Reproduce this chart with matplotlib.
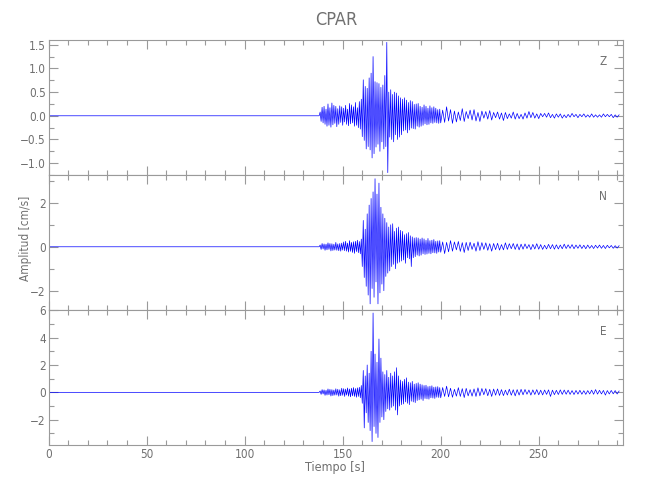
import numpy as np
import matplotlib.pyplot as plt
from matplotlib.ticker import MultipleLocator

plt.rcParams['font.family'] = ['Liberation Sans Narrow', 'DejaVu Sans']
plt.rcParams['font.stretch'] = 'condensed'

# station / components
station = "CPAR"
components = ["Z", "N", "E"]

# quiet record before the arrival (s)
t_pre = [0.0, 138.0]
pre_vals = [0.0, 0.0]

# main phase: peaks read every 0.5 s from 138.5 s, coda: every 1 s from 200 s
t_main0, dt_main = 138.5, 0.5
t_coda0, dt_coda = 200.0, 1.0

z_main = [0.08, -0.12, 0.18, -0.15, 0.2, -0.18, 0.14, -0.22, 0.25, -0.2, 0.17, -0.24,
          0.27, -0.19, 0.22, -0.16, 0.2, -0.23, 0.15, -0.18, 0.21, -0.14, 0.19,
          -0.2, 0.16, -0.13, 0.22, -0.18, 0.14, -0.21, 0.26, -0.17, 0.23, -0.15, 0.19,
          -0.22, 0.28, -0.2, 0.17, -0.25, 0.3, -0.28, 0.35,
          -0.44, 0.76, -0.52, 0.62, -0.7, 0.58, -0.65, 0.8, -0.72, 0.9,
          -0.89, 1.25, -0.8, 0.72, -0.66, 0.7, -0.6, 0.68, -0.75, 0.6,
          -0.55, 0.65, -0.7, 0.85, -0.65, 1.55, -1.2, 0.5, -0.45, 0.55,
          -0.5, 0.45, -0.55, 0.5, -0.4, 0.48, -0.5, 0.42, -0.45, 0.38,
          -0.4, 0.35, -0.32, 0.38, -0.3, 0.33, -0.36, 0.28, -0.3, 0.32,
          -0.26, 0.3, -0.27, 0.24, -0.28, 0.25, -0.22, 0.26, -0.24, 0.2,
          -0.22, 0.18, -0.2, 0.23, -0.17, 0.2, -0.19, 0.16, -0.18, 0.21,
          -0.15, 0.17, -0.16, 0.19, -0.14, 0.16, -0.15, 0.13, -0.16, 0.14]
z_coda = [-0.15, 0.12, -0.14, 0.19, -0.11, 0.13, -0.16, 0.1, -0.13, 0.08,
          -0.1, 0.15, -0.12, 0.09, -0.06, 0.12, -0.09, 0.13, -0.11, 0.07,
          -0.12, 0.1, -0.05, 0.09, -0.07, 0.11, -0.09, 0.07, -0.04, 0.08,
          -0.07, 0.06, -0.1, 0.07, -0.06, 0.04, -0.05, 0.08, -0.07, 0.05,
          -0.06, 0.03, -0.07, 0.06, -0.05, 0.09, -0.04, 0.07, -0.05, 0.04,
          -0.06, 0.05, -0.02, 0.05, -0.03, 0.06, -0.04, 0.03, -0.05, 0.04,
          -0.03, 0.04, -0.05, 0.02, -0.04, 0.03, -0.03, 0.05, -0.02, 0.03,
          -0.04, 0.03, -0.02, 0.04, -0.03, 0.02, -0.03, 0.04, -0.03, 0.02,
          -0.03, 0.02, -0.03, 0.04, -0.02, 0.03, -0.02, 0.03, -0.04, 0.02, -0.03, 0.02]

n_main = [0.08, -0.12, 0.15, -0.1, 0.13, -0.16, 0.12, -0.14, 0.18, -0.12, 0.15, -0.19,
          0.14, -0.17, 0.12, -0.15, 0.2, -0.16, 0.13, -0.18, 0.15, -0.2, 0.17,
          -0.15, 0.22, -0.18, 0.25, -0.2, 0.17, -0.24, 0.28, -0.21, 0.2, -0.26, 0.23,
          -0.3, 0.25, -0.22, 0.3, -0.27, 0.24, -0.32, 0.35,
          -0.9, 1.2, -1.4, 0.8, -1.8, 1.5, -2.2, 1.9, -2.6, 2.2,
          -1.9, 2.5, -2.3, 3.1, -1.6, 2.4, -2.6, 2.9, -2.1, 1.8,
          -1.7, 1.5, -2.0, 1.3, -1.35, 1.1, -1.2, 0.9, -1.1, 1.0,
          -0.9, 1.05, -0.8, 0.7, -1.0, 0.85, -0.75, 0.9, -0.7, 0.75,
          -0.65, 0.7, -0.6, 0.55, -0.75, 0.6, -0.5, 0.65, -0.55, 0.5,
          -0.9, 0.45, -0.5, 0.4, -0.45, 0.42, -0.38, 0.4, -0.42, 0.35,
          -0.38, 0.4, -0.32, 0.36, -0.35, 0.3, -0.33, 0.38, -0.3, 0.28,
          -0.32, 0.3, -0.27, 0.33, -0.28, 0.25, -0.3, 0.27, -0.24, 0.28]
n_coda = [-0.25, 0.22, -0.31, 0.2, -0.23, 0.28, -0.2, 0.22, -0.14, 0.24,
          -0.21, 0.19, -0.26, 0.2, -0.17, 0.21, -0.12, 0.16, -0.2, 0.23,
          -0.17, 0.19, -0.12, 0.18, -0.16, 0.14, -0.2, 0.15, -0.13, 0.16,
          -0.15, 0.1, -0.14, 0.18, -0.12, 0.14, -0.09, 0.15, -0.12, 0.13,
          -0.14, 0.12, -0.11, 0.13, -0.08, 0.1, -0.13, 0.11, -0.1, 0.14,
          -0.11, 0.1, -0.12, 0.07, -0.1, 0.11, -0.09, 0.1, -0.11, 0.09,
          -0.1, 0.08, -0.09, 0.12, -0.08, 0.09, -0.07, 0.1, -0.09, 0.08,
          -0.07, 0.09, -0.08, 0.07, -0.09, 0.08, -0.07, 0.06, -0.08, 0.07,
          -0.06, 0.08, -0.07, 0.06, -0.08, 0.07, -0.05, 0.06, -0.07, 0.05, -0.06, 0.05]

e_main = [0.1, -0.15, 0.2, -0.12, 0.18, -0.22, 0.15, -0.2, 0.25, -0.18, 0.22, -0.27,
          0.2, -0.24, 0.17, -0.21, 0.26, -0.2, 0.23, -0.28, 0.19, -0.25, 0.3,
          -0.22, 0.27, -0.3, 0.24, -0.2, 0.32, -0.28, 0.25, -0.33, 0.3, -0.26, 0.35,
          -0.3, 0.28, -0.36, 0.33, -0.3, 0.37, -0.4, 0.5,
          -0.8, 1.6, -2.6, 1.2, -1.5, 2.0, -2.2, 1.4, -2.8, 3.0,
          -3.6, 5.8, -2.5, 2.8, -3.0, 2.2, -3.3, 3.9, -2.2, 2.5,
          -1.8, 1.5, -2.0, 1.3, -1.4, 1.6, -1.2, 1.1, -1.3, 1.4,
          -1.1, 1.2, -1.0, 1.5, -1.3, 1.8, -1.65, 1.2, -1.0, 0.9,
          -0.9, 0.8, -0.85, 0.95, -0.7, 1.06, -0.8, 0.75, -0.9, 0.7,
          -0.65, 0.8, -0.7, 0.6, -0.75, 0.65, -0.6, 0.7, -0.55, 0.6,
          -0.5, 0.55, -0.6, 0.5, -0.45, 0.52, -0.48, 0.42, -0.5, 0.45,
          -0.4, 0.48, -0.42, 0.38, -0.45, 0.4, -0.36, 0.42, -0.38, 0.35]
e_coda = [-0.4, 0.35, -0.3, 0.45, -0.33, 0.3, -0.36, 0.22, -0.28, 0.34,
          -0.3, 0.27, -0.38, 0.29, -0.26, 0.2, -0.28, 0.25, -0.3, 0.33,
          -0.26, 0.28, -0.18, 0.27, -0.25, 0.22, -0.3, 0.24, -0.21, 0.25,
          -0.23, 0.2, -0.24, 0.16, -0.2, 0.23, -0.21, 0.19, -0.26, 0.2,
          -0.2, 0.22, -0.18, 0.21, -0.14, 0.17, -0.2, 0.18, -0.16, 0.2,
          -0.18, 0.16, -0.19, 0.17, -0.15, 0.18, -0.3, 0.16, -0.17, 0.15,
          -0.16, 0.18, -0.15, 0.17, -0.14, 0.16, -0.15, 0.13, -0.16, 0.14,
          -0.13, 0.15, -0.14, 0.12, -0.15, 0.13, -0.12, 0.16, -0.14, 0.2,
          -0.13, 0.15, -0.12, 0.14, -0.2, 0.13, -0.12, 0.14, -0.11, 0.13, -0.12, 0.1]

traces = [(z_main, z_coda), (n_main, n_coda), (e_main, e_coda)]
ylims = [(-1.25, 1.6), (-2.88, 3.27), (-3.85, 6.02)]
ymajor = [0.5, 2, 2]
yminor = [0.25, 1, 1]

gray = '#9a9a9a'
txt = '#707070'

fig = plt.figure(figsize=(6.5, 5), dpi=100)
left, width = 0.0748, 0.8837
bottom, top = 0.11, 0.92
h = (top - bottom) / 3

for i, (comp, (vm, vc)) in enumerate(zip(components, traces)):
    ax = fig.add_axes([left, top - (i + 1) * h, width, h])
    t = np.concatenate([t_pre,
                        t_main0 + dt_main * np.arange(len(vm)),
                        t_coda0 + dt_coda * np.arange(len(vc))])
    v = np.concatenate([pre_vals, vm, vc])
    ax.plot(t, v, color='#0000ff', lw=0.5)

    ax.set_xlim(0, 293)
    ax.set_ylim(*ylims[i])
    ax.xaxis.set_major_locator(MultipleLocator(50))
    ax.xaxis.set_minor_locator(MultipleLocator(10))
    ax.yaxis.set_major_locator(MultipleLocator(ymajor[i]))
    ax.yaxis.set_minor_locator(MultipleLocator(yminor[i]))
    if i == 0:
        ax.yaxis.set_major_formatter(lambda val, pos: f"{val:.1f}".replace('-', '\u2212'))
    ax.tick_params(which='both', direction='in', top=True, right=True,
                   color=gray, labelcolor=txt, labelsize=8.5, pad=2)
    ax.tick_params(which='major', length=6.5, width=0.8)
    ax.tick_params(which='minor', length=3.6, width=0.8)
    for s in ax.spines.values():
        s.set_color(gray)
        s.set_linewidth(0.8)
    if i < 2:
        ax.tick_params(labelbottom=False)
    ax.text(0.965, 0.84, comp, transform=ax.transAxes, ha='center', va='center',
            color=txt, fontsize=8.5)

fig.text(left + width / 2, 1 - 20 / 500, station, ha='center', va='center',
         color=txt, fontsize=13)
fig.text(26 / 650, 1 - 238 / 500, "Amplitud [cm/s]", rotation=90,
         ha='center', va='center', color=txt, fontsize=8.5)
fig.text(335 / 650, 1 - 468 / 500, "Tiempo [s]", ha='center', va='center',
         color=txt, fontsize=9)

fig.savefig('out.png', dpi=100)
